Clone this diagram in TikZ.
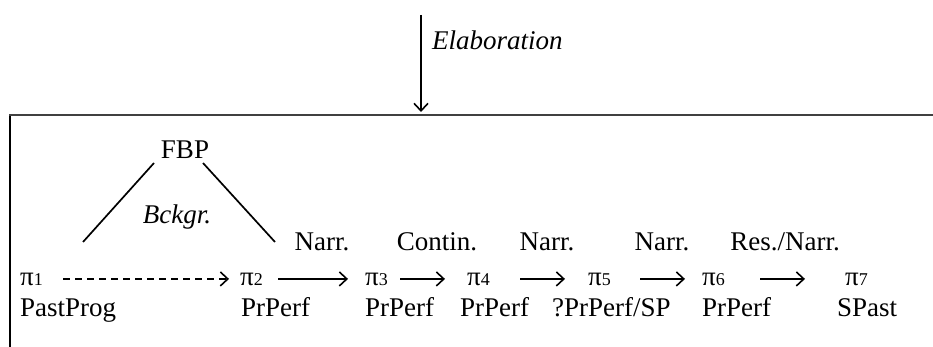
\documentclass[tikz,border=0pt]{standalone}
\usepackage{fontspec}
\setmainfont{Liberation Serif}[ItalicFont={Liberation Serif Italic}]
\usetikzlibrary{arrows.meta}

\newcommand{\seg}[1]{π{\fontsize{18}{18}\selectfont #1}}

\tikzset{
    txt/.style={inner sep=0pt, anchor=base west, font=\fontsize{27}{32}\selectfont},
    rel/.style={inner sep=0pt, anchor=base, font=\fontsize{27}{32}\selectfont},
    link/.style={line width=1.7pt, -{Straight Barb[length=7.5pt, width=14pt, line width=1.6pt]}}
}

\begin{document}
\begin{tikzpicture}[x=1pt, y=-1pt]
    \useasboundingbox (0,0) rectangle (933,347);

    % frame (cut off at right and bottom)
    \draw[line width=1.8pt] (10,347) -- (10,114.1);
    \draw[line width=1.8pt, black!75] (9.1,115) -- (933,115);

    % elaboration from above
    \coordinate (elabtop) at (421,15);
    \coordinate (frametop) at (421,112);
    \node[rel, anchor=base west, font=\fontsize{27}{32}\selectfont\itshape] (elab) at (432,50) {Elaboration};
    \draw[link] (elabtop) -- (frametop);

    % background topic
    \node[rel] (fbp) at (185,159) {FBP};
    \node[rel, font=\fontsize{27}{32}\selectfont\itshape] (bckgr) at (177,223) {Bckgr.};
    \coordinate (fbpL) at (154,163);
    \coordinate (fbpR) at (203,163);
    \coordinate (bgL) at (83,242);
    \coordinate (bgR) at (275,242);
    \draw[line width=1.7pt] (fbpL) -- (bgL);
    \draw[line width=1.7pt] (fbpR) -- (bgR);

    % segments
    \node[txt] (p1) at (20,285) {\seg{1}};
    \node[txt] (p2) at (240,285) {\seg{2}};
    \node[txt] (p3) at (365,285) {\seg{3}};
    \node[txt] (p4) at (467,285) {\seg{4}};
    \node[txt] (p5) at (588,285) {\seg{5}};
    \node[txt] (p6) at (702,285) {\seg{6}};
    \node[txt] (p7) at (845,285) {\seg{7}};

    % tenses
    \node[txt] (t1) at (20,316) {PastProg};
    \node[txt] (t2) at (241,316) {PrPerf};
    \node[txt] (t3) at (365,316) {PrPerf};
    \node[txt] (t4) at (460,316) {PrPerf};
    \node[txt] (t5) at (552,316) {?PrPerf/SP};
    \node[txt] (t6) at (702,316) {PrPerf};
    \node[txt] (t7) at (837,316) {SPast};

    % relations
    \node[rel] (r2) at (322,251) {Narr.};
    \node[rel] (r3) at (437,251) {Contin.};
    \node[rel] (r4) at (547,251) {Narr.};
    \node[rel] (r5) at (662,251) {Narr.};
    \node[rel] (r6) at (785,251) {Res./Narr.};

    \draw[link, dash pattern=on 7pt off 5pt, shorten <=20pt, shorten >=11pt] (p1.east) -- (p2.west);
    \draw[link, shorten <=15pt, shorten >=17pt] (p2.east) -- (p3.west);
    \draw[link, shorten <=12pt, shorten >=22pt] (p3.east) -- (p4.west);
    \draw[link, shorten <=30pt, shorten >=23pt] (p4.east) -- (p5.west);
    \draw[link, shorten <=29pt, shorten >=17pt] (p5.east) -- (p6.west);
    \draw[link, shorten <=35pt, shorten >=40pt] (p6.east) -- (p7.west);
\end{tikzpicture}
\end{document}
